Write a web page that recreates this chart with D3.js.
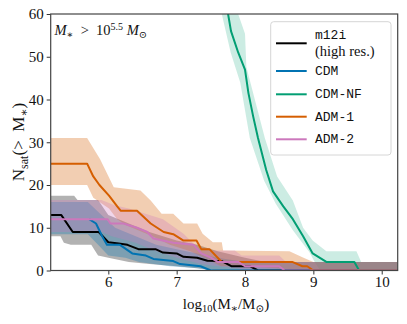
<!DOCTYPE html>
<html>
<head>
<meta charset="utf-8">
<script src="https://cdn.jsdelivr.net/npm/d3@7"></script>
<style>
  body { margin: 0; background: #fff; }
  svg { display: block; }
</style>
</head>
<body>
<svg id="chart" width="407" height="324"></svg>
<script>
// ---- data (log10 M*, N_sat) ----
const xTicks = [6, 7, 8, 9, 10];
const yTicks = [0, 10, 20, 30, 40, 50, 60];
const seriesNames = ['m12i', 'CDM', 'CDM-NF', 'ADM-1', 'ADM-2'];
const seriesColors = ['#000000', '#0173b2', '#029e73', '#d55e00', '#cc78bc'];

const m12iLine = [[5.16,13],[5.31,13],[5.48,9],[5.86,9],[6.0,6.6],[6.15,6.3],[6.28,6],[6.44,5],[6.69,5],[6.8,4.2],[7.0,4],[7.1,3.2],[7.3,3],[7.45,2.3],[7.66,2.2],[7.8,1],[8.07,1],[8.19,0],[10.23,0]];
const m12iHi = [[5.16,17.5],[5.5,17.5],[5.55,16.5],[5.85,16.5],[6.0,13],[6.3,11],[6.6,9],[7.0,7],[7.3,6],[7.6,4.5],[8.0,3],[8.3,2],[10.23,2]];
const m12iLo = [[5.16,8],[5.3,8],[5.35,6.5],[5.45,6],[5.75,6],[5.85,3.5],[6.0,3],[6.3,2],[6.6,1.5],[7.0,1],[7.3,0.5],[7.6,0],[10.23,0]];

const cdmLine = [[5.72,12],[5.82,11],[5.91,8],[5.98,6],[6.17,6],[6.35,4],[6.55,3.5],[6.66,2.7],[6.95,2.2],[7.05,1.5],[7.35,1],[7.5,0],[10.23,0]];
const cdmHi = [[5.16,16],[5.7,16],[5.9,13],[6.1,10],[6.4,8],[6.7,6],[7.0,5],[7.3,4],[7.6,3],[8.0,2],[10.23,2]];
const cdmLo = [[5.16,8.5],[5.7,8.5],[5.85,6],[6.0,3.5],[6.25,3],[6.45,2],[6.9,1],[7.3,0.5],[7.5,0],[10.23,0]];

const cdmNfLine = [[7.72,63],[7.795,56],[7.9,51],[8.0,47],[8.05,41.5],[8.12,36],[8.19,31],[8.31,23.5],[8.41,18.5],[8.56,15],[8.7,12],[8.85,8],[8.99,4],[9.19,2],[9.6,2],[9.67,0],[10.23,0]];
const cdmNfHi = [[7.88,63],[7.9,60],[8.0,55.4],[8.02,47.6],[8.29,31],[8.47,22],[8.7,16.4],[8.85,10],[8.99,7],[9.19,4.5],[9.63,4.5],[9.7,2],[10.23,2]];
const cdmNfLo = [[7.62,63],[7.66,60],[7.79,51],[7.93,44],[8.07,31],[8.28,21],[8.45,15.6],[8.7,9.4],[8.94,4.3],[9.02,2],[9.1,0],[10.23,0]];

const adm1Line = [[5.16,25],[5.69,25],[5.78,22],[5.87,20],[6.01,17.5],[6.13,15],[6.18,14],[6.42,14],[6.62,11],[6.81,9],[6.95,8.5],[7.1,7],[7.29,7],[7.36,5],[7.48,5],[7.66,2],[8.69,2],[8.84,1],[8.91,1],[9.0,0],[10.23,0]];
const adm1Hi = [[5.16,31],[5.69,31],[5.88,26],[6.08,19.5],[6.47,18.7],[6.62,16.4],[6.78,13.3],[6.95,13.3],[7.1,11],[7.3,11],[7.38,8.6],[7.53,6.6],[7.66,6.6],[7.68,4.7],[8.65,4.5],[8.84,3.1],[9.0,2],[10.23,2]];
const adm1Lo = [[5.16,20],[5.69,20],[5.78,17],[6.01,14.5],[6.13,12],[6.27,10.5],[6.62,8.2],[6.9,6],[7.2,4.5],[7.4,3],[7.65,1],[8.0,1],[9.0,0],[10.23,0]];

const adm2Line = [[5.16,12],[5.99,12],[6.03,11],[6.22,11],[6.42,10],[6.57,9],[6.66,7.5],[6.95,6.5],[7.25,6],[7.36,4],[7.5,3],[7.6,2],[7.9,2],[8.0,1],[8.5,1],[8.58,0],[10.23,0]];
const adm2Hi = [[5.16,16.5],[5.9,16.5],[6.1,15.2],[6.3,14.5],[6.6,13],[6.8,12],[7.1,8.6],[7.35,4.7],[7.85,4.7],[7.95,3.5],[8.5,3.5],[8.6,2],[10.23,2]];
const adm2Lo = [[5.16,9],[5.9,9],[6.05,8],[6.4,6.5],[6.7,4.5],[7.0,3],[7.35,1.5],[7.6,1],[7.9,0.5],[8.0,0],[10.23,0]];

const lines = [m12iLine, cdmLine, cdmNfLine, adm1Line, adm2Line];
const bandsHi = [m12iHi, cdmHi, cdmNfHi, adm1Hi, adm2Hi];
const bandsLo = [m12iLo, cdmLo, cdmNfLo, adm1Lo, adm2Lo];
const bandOpacity = [0.3, 0.3, 0.2, 0.3, 0.3];

// ---- layout ----
const LEFT = 50.7, RIGHT = 397.7, TOP = 14, BOTTOM = 270.5;
const SERIF = '"Liberation Serif", "DejaVu Serif", serif';
const MONO = '"Liberation Mono", "DejaVu Sans Mono", monospace';

const svg = d3.select('#chart');
const x = d3.scaleLinear().domain([5.157, 10.234]).range([LEFT, RIGHT]);
const y = d3.scaleLinear().domain([0, 60]).range([BOTTOM, TOP]);

svg.append('clipPath').attr('id', 'plotClip')
    .append('rect')
    .attr('x', LEFT).attr('y', TOP)
    .attr('width', RIGHT - LEFT).attr('height', BOTTOM - TOP);

const plot = svg.append('g').attr('clip-path', 'url(#plotClip)');
const lineGen = d3.line().x(d => x(d[0])).y(d => y(d[1]));

// bands: upper edge left->right, lower edge back right->left
bandsHi.forEach((hi, i) => {
    const poly = hi.concat(bandsLo[i].slice().reverse());
    plot.append('path')
        .attr('d', lineGen(poly) + 'Z')
        .attr('fill', seriesColors[i])
        .attr('fill-opacity', bandOpacity[i])
        .attr('stroke', 'none');
});

lines.forEach((pts, i) => {
    plot.append('path')
        .attr('d', lineGen(pts))
        .attr('fill', 'none')
        .attr('stroke', seriesColors[i])
        .attr('stroke-width', 2)
        .attr('stroke-linejoin', 'round');
});

// axes
const xAxis = svg.append('g')
    .attr('transform', `translate(0,${BOTTOM})`)
    .call(d3.axisBottom(x).tickValues(xTicks).tickSize(4).tickPadding(2).tickFormat(d3.format('d')));
const yAxis = svg.append('g')
    .attr('transform', `translate(${LEFT},0)`)
    .call(d3.axisLeft(y).tickValues(yTicks).tickSize(4).tickPadding(3).tickFormat(d3.format('d')));
[xAxis, yAxis].forEach(a => {
    a.select('.domain').remove();
    a.selectAll('.tick line').attr('stroke', '#333').attr('stroke-width', 1);
    a.selectAll('.tick text').attr('fill', '#111')
        .style('font-family', SERIF).style('font-size', '15px');
});

// frame
svg.append('rect')
    .attr('x', LEFT).attr('y', TOP)
    .attr('width', RIGHT - LEFT).attr('height', BOTTOM - TOP)
    .attr('fill', 'none').attr('stroke', '#444').attr('stroke-width', 1.2);

// axis labels
const xl = svg.append('text')
    .attr('x', 226).attr('y', 309)
    .attr('text-anchor', 'middle')
    .style('font-family', SERIF).style('font-size', '15px').attr('fill', '#111');
xl.append('tspan').text('log');
xl.append('tspan').text('10').attr('dy', 3).style('font-size', '10.5px');
xl.append('tspan').text('(M').attr('dy', -3);
xl.append('tspan').text('∗').attr('dy', 3).style('font-size', '10.5px');
xl.append('tspan').text('/M').attr('dy', -3);
xl.append('tspan').text('⊙').attr('dy', 3).style('font-size', '10.5px');
xl.append('tspan').text(')').attr('dy', -3);

const yl = svg.append('text')
    .attr('transform', 'translate(24,142) rotate(-90)')
    .attr('text-anchor', 'middle')
    .style('font-family', SERIF).style('font-size', '17px').attr('fill', '#111');
yl.append('tspan').text('N');
yl.append('tspan').text('sat').attr('dy', 3.5).style('font-size', '12px');
yl.append('tspan').text('(>\u2002M').attr('dy', -3.5);
yl.append('tspan').text('∗').attr('dy', 3.5).style('font-size', '12px');
yl.append('tspan').text(')').attr('dy', -3.5);

// mass cut annotation
const ann = svg.append('text')
    .attr('x', 54.5).attr('y', 35)
    .style('font-family', SERIF).style('font-size', '14.5px').attr('fill', '#111');
ann.append('tspan').text('M').style('font-style', 'italic');
ann.append('tspan').text('∗').attr('dy', 3).style('font-size', '10px');
ann.append('tspan').text('\u2002>\u200210').attr('dy', -3);
ann.append('tspan').text('5.5').attr('dy', -5).style('font-size', '10px');
ann.append('tspan').text(' M').attr('dy', 5).style('font-style', 'italic');
ann.append('tspan').text('⊙').attr('dy', 3).style('font-size', '10px');

// legend
const legend = svg.append('g');
legend.append('rect')
    .attr('x', 270.7).attr('y', 21.7)
    .attr('width', 120.3).attr('height', 133.3)
    .attr('rx', 3)
    .attr('fill', '#fff').attr('fill-opacity', 0.8)
    .attr('stroke', '#d6d6d6').attr('stroke-width', 1);

const legendRows = [43.3, 71, 94.3, 116.7, 139.3];
seriesNames.forEach((name, i) => {
    const ly = legendRows[i];
    legend.append('line')
        .attr('x1', 276).attr('x2', 306.7)
        .attr('y1', ly).attr('y2', ly)
        .attr('stroke', seriesColors[i]).attr('stroke-width', 2);
    legend.append('text')
        .attr('x', 315).attr('y', i === 0 ? 38.5 : ly + 4)
        .style('font-family', MONO).style('font-size', '13px').attr('fill', '#111')
        .text(name);
});
legend.append('text')
    .attr('x', 315).attr('y', 55.5)
    .style('font-family', SERIF).style('font-size', '14.5px').attr('fill', '#111')
    .text('(high res.)');
</script>
</body>
</html>
